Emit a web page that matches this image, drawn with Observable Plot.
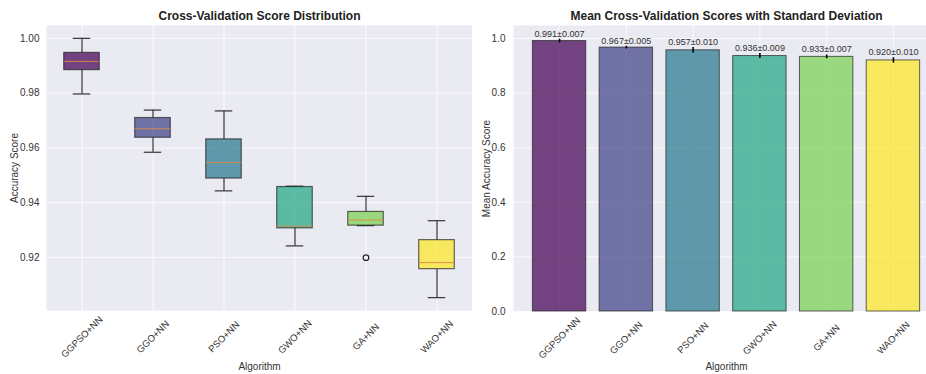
<!DOCTYPE html>
<html>
<head>
<meta charset="utf-8">
<script src="https://cdn.jsdelivr.net/npm/d3@7"></script>
<script src="https://cdn.jsdelivr.net/npm/@observablehq/plot@0.6"></script>
<style>
  html, body { margin: 0; padding: 0; background: white; }
  #wrap { width: 926px; height: 374px; overflow: hidden; display: flex; background: white; }
  #wrap > * { flex-shrink: 0; }
</style>
</head>
<body>
<div id="wrap"></div>
<script>
// ---- data ----
const algorithms = ["GGPSO+NN", "GGO+NN", "PSO+NN", "GWO+NN", "GA+NN", "WAO+NN"];
// per-fold cross-validation scores (5 folds)
const scoresGGPSO = [0.9797, 0.9884, 0.9916, 0.9947, 1.0000];
const scoresGGO   = [0.9584, 0.9637, 0.9670, 0.9709, 0.9738];
const scoresPSO   = [0.9443, 0.9488, 0.9546, 0.9631, 0.9735];
const scoresGWO   = [0.9242, 0.9306, 0.9314, 0.9457, 0.9460];
const scoresGA    = [0.9199, 0.9316, 0.9336, 0.9366, 0.9423];
const scoresWAO   = [0.9053, 0.9157, 0.9181, 0.9263, 0.9334];
// mean and standard deviation as printed on the bars
const meanScores = [0.991, 0.967, 0.957, 0.936, 0.933, 0.920];
const stdScores  = [0.007, 0.005, 0.010, 0.009, 0.007, 0.010];
const leftTicks  = [0.92, 0.94, 0.96, 0.98, 1.00];
const rightTicks = [0.0, 0.2, 0.4, 0.6, 0.8, 1.0];

// ---- derived tables ----
const allScores = [scoresGGPSO, scoresGGO, scoresPSO, scoresGWO, scoresGA, scoresWAO];
const boxes = algorithms.map((algo, i) => {
  const v = allScores[i].slice().sort(d3.ascending);
  const q1 = d3.quantile(v, 0.25), med = d3.quantile(v, 0.5), q3 = d3.quantile(v, 0.75);
  const iqr = q3 - q1, lo = q1 - 1.5 * iqr, hi = q3 + 1.5 * iqr;
  const inside = v.filter(d => d >= lo && d <= hi);
  return {algo, q1, med, q3, wlo: d3.min(inside), whi: d3.max(inside),
          outliers: v.filter(d => d < lo || d > hi)};
});
const outlierRows = boxes.flatMap(b => b.outliers.map(o => ({algo: b.algo, value: o})));
const barRows = algorithms.map((algo, i) => ({algo, mean: meanScores[i], std: stdScores[i],
  label: meanScores[i].toFixed(3) + "±" + stdScores[i].toFixed(3)}));

const palette = d3.quantize(d3.interpolateViridis, 6);
const BG = "#EAEAF2";
const FONT = "'Liberation Sans', Arial, sans-serif";
const TXT = "#333";
const ALPHA = 0.72;

const common = {
  height: 374,
  marginTop: 25,
  style: {fontFamily: FONT, fontSize: "10px", color: TXT, background: "white", overflow: "visible"},
  color: {type: "ordinal", domain: algorithms, range: palette}
};

// ---- left: box plot ----
const left = Plot.plot({
  ...common,
  width: 472,
  marginLeft: 46,
  marginRight: 0,
  marginBottom: 64,
  x: {type: "band", domain: algorithms, paddingInner: 0.5, paddingOuter: 0.25, round: false, axis: null},
  y: {domain: [0.9006, 1.0047], axis: null},
  marks: [
    Plot.frame({fill: BG, stroke: null}),
    Plot.gridY(leftTicks, {stroke: "white", strokeOpacity: 0.75, strokeWidth: 1}),
    Plot.gridX(algorithms, {stroke: "white", strokeOpacity: 0.75, strokeWidth: 1}),
    Plot.axisY(leftTicks, {tickSize: 0, tickPadding: 7, tickFormat: d3.format(".2f"), fill: TXT,
      label: "Accuracy Score", labelArrow: "none", labelAnchor: "center", labelOffset: 36, fontSize: 10}),
    Plot.ruleX(boxes, {x: "algo", y1: "wlo", y2: "q1", stroke: "#333", strokeWidth: 1.2}),
    Plot.ruleX(boxes, {x: "algo", y1: "q3", y2: "whi", stroke: "#333", strokeWidth: 1.2}),
    Plot.tickY(boxes, {x: "algo", y: "wlo", stroke: "#333", strokeWidth: 1.2, insetLeft: 9, insetRight: 9}),
    Plot.tickY(boxes, {x: "algo", y: "whi", stroke: "#333", strokeWidth: 1.2, insetLeft: 9, insetRight: 9}),
    Plot.barY(boxes, {x: "algo", y1: "q1", y2: "q3", fill: "algo", fillOpacity: ALPHA,
      stroke: "#222", strokeOpacity: 0.7, strokeWidth: 1.2}),
    Plot.tickY(boxes, {x: "algo", y: "med", stroke: "#d98a45", strokeOpacity: 0.9, strokeWidth: 1}),
    Plot.dot(outlierRows, {x: "algo", y: "value", r: 2.8, fill: "none", stroke: "#222", strokeWidth: 1.2}),
    Plot.text(algorithms, {x: d => d, frameAnchor: "bottom", dy: 26.5, rotate: -45,
      textAnchor: "middle", lineAnchor: "middle", fill: TXT, fontSize: 9.5}),
    Plot.text(["Algorithm"], {frameAnchor: "bottom", dy: 56, fill: TXT, fontSize: 10, lineAnchor: "middle"}),
    Plot.text(["Cross-Validation Score Distribution"], {frameAnchor: "top", dy: -9.5,
      fontWeight: "bold", fontSize: 12, fill: "#222", lineAnchor: "middle"})
  ]
});

// ---- right: bar chart with std error bars ----
const right = Plot.plot({
  ...common,
  width: 467,
  marginLeft: 41,
  marginRight: 0,
  marginBottom: 63,
  x: {type: "band", domain: algorithms, paddingInner: 0.2, paddingOuter: 0.29, round: false, axis: null},
  y: {domain: [0, 1.0479], axis: null},
  marks: [
    Plot.frame({fill: BG, stroke: null}),
    Plot.gridY(rightTicks, {stroke: "white", strokeOpacity: 0.75, strokeWidth: 1}),
    Plot.gridX(algorithms, {stroke: "white", strokeOpacity: 0.75, strokeWidth: 1}),
    Plot.axisY(rightTicks, {tickSize: 0, tickPadding: 8, tickFormat: d3.format(".1f"), fill: TXT,
      label: "Mean Accuracy Score", labelArrow: "none", labelAnchor: "center", labelOffset: 31, fontSize: 10}),
    Plot.barY(barRows, {x: "algo", y: "mean", fill: "algo", fillOpacity: ALPHA,
      stroke: "#222", strokeOpacity: 0.7, strokeWidth: 1}),
    Plot.ruleX(barRows, {x: "algo", y1: d => d.mean - d.std, y2: d => d.mean + d.std,
      stroke: "black", strokeWidth: 1.6}),
    Plot.text(barRows, {x: "algo", y: d => d.mean + d.std, text: "label", dy: -2.5,
      lineAnchor: "bottom", fill: TXT, fontSize: 9}),
    Plot.text(algorithms, {x: d => d, frameAnchor: "bottom", dy: 26.5, rotate: -45,
      textAnchor: "middle", lineAnchor: "middle", fill: TXT, fontSize: 9.5}),
    Plot.text(["Algorithm"], {frameAnchor: "bottom", dy: 55, fill: TXT, fontSize: 10, lineAnchor: "middle"}),
    Plot.text(["Mean Cross-Validation Scores with Standard Deviation"], {frameAnchor: "top", dy: -9.5,
      fontWeight: "bold", fontSize: 12, fill: "#222", lineAnchor: "middle"})
  ]
});

document.getElementById("wrap").append(left, right);
</script>
</body>
</html>
